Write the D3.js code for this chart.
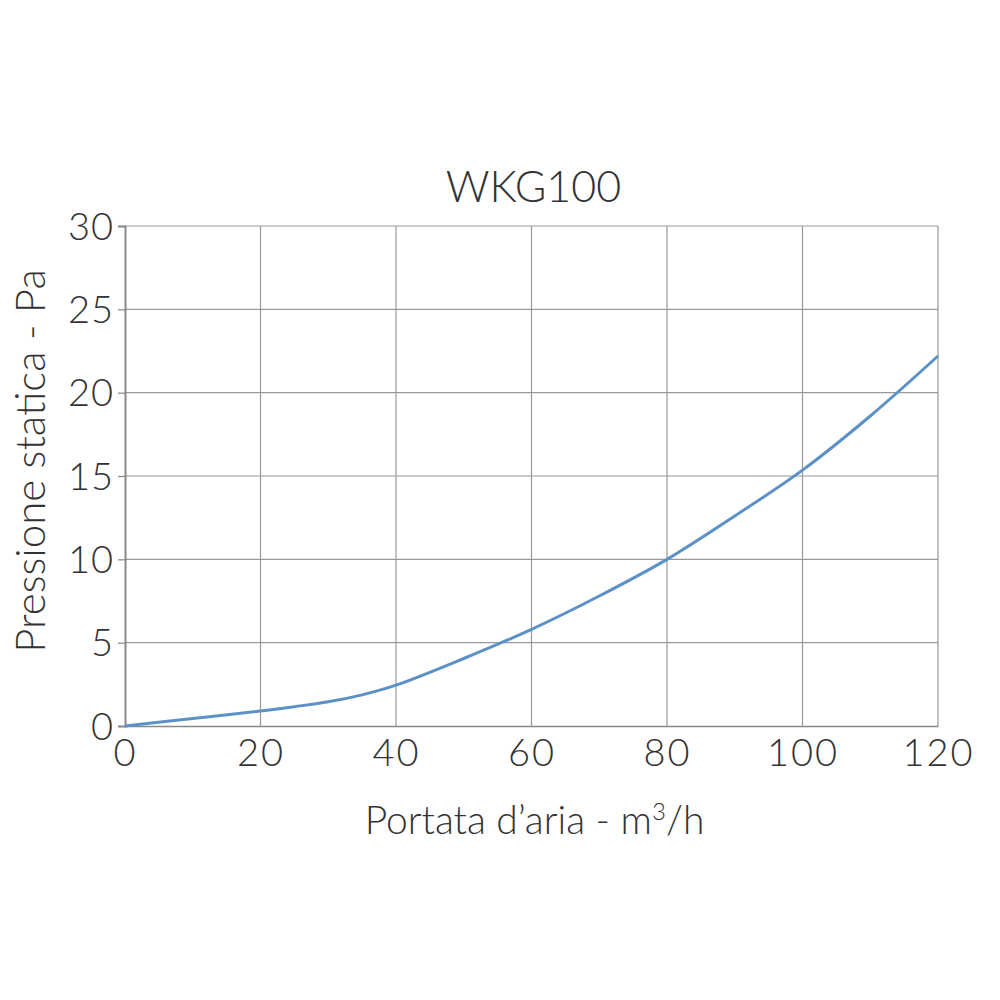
<!DOCTYPE html>
<html>
<head>
<meta charset="utf-8">
<script src="https://cdn.jsdelivr.net/npm/d3@7"></script>
<style>
  body { margin: 0; background: #fff; }
  text { font-family: 'Lato', 'Open Sans', sans-serif; font-weight: 300; fill: #333; }
</style>
</head>
<body>
<svg id="chart" width="1000" height="1000"></svg>
<script>
// air flow (m3/h) vs static pressure (Pa)
const flow = [0, 10, 20, 25, 30, 35, 40, 50, 60, 70, 80, 90, 100, 110, 120];
const pressure = [0, 0.45, 0.9, 1.16, 1.45, 1.87, 2.45, 4.05, 5.8, 7.8, 10, 12.6, 15.35, 18.6, 22.2];
const xTicks = [0, 20, 40, 60, 80, 100, 120];
const yTicks = [0, 5, 10, 15, 20, 25, 30];

const margin = { top: 226, right: 62, bottom: 274, left: 125 };
const width = 1000 - margin.left - margin.right;
const height = 1000 - margin.top - margin.bottom;

const svg = d3.select('#chart')
  .append('g')
  .attr('transform', `translate(${margin.left},${margin.top})`);

const xScale = d3.scaleLinear().domain([0, 120]).range([0, width]);
const yScale = d3.scaleLinear().domain([0, 30]).range([height, 0]);

// grid
svg.append('g')
  .selectAll('line.v')
  .data(xTicks.slice(1))
  .enter().append('line')
  .attr('x1', d => xScale(d)).attr('x2', d => xScale(d))
  .attr('y1', 0).attr('y2', height)
  .attr('stroke', '#999').attr('stroke-width', 1.2);

svg.append('g')
  .selectAll('line.h')
  .data(yTicks.slice(1))
  .enter().append('line')
  .attr('x1', 0).attr('x2', width)
  .attr('y1', d => yScale(d)).attr('y2', d => yScale(d))
  .attr('stroke', '#999').attr('stroke-width', 1.2);

const axisX = d3.axisBottom(xScale).tickValues(xTicks).tickSize(0).tickPadding(14);
const axisY = d3.axisLeft(yScale).tickValues(yTicks).tickSize(7).tickPadding(4);

const gx = svg.append('g')
  .attr('transform', `translate(0, ${height})`)
  .call(axisX);
gx.select('.domain').attr('stroke', '#888').attr('stroke-width', 1.5);
gx.selectAll('text').style('font-size', '38px').style('letter-spacing', '2px').attr('dy', '0.68em');

const gy = svg.append('g').call(axisY);
gy.select('.domain').attr('stroke', '#888').attr('stroke-width', 2);
gy.selectAll('line').attr('stroke', '#888').attr('stroke-width', 1.2);
gy.selectAll('text').style('font-size', '38px').style('letter-spacing', '1px').attr('dy', '0.35em');

// curve
const line = d3.line()
  .x((d, i) => xScale(flow[i]))
  .y(d => yScale(d))
  .curve(d3.curveCatmullRom.alpha(0.5));

svg.append('path')
  .datum(pressure)
  .attr('d', line)
  .attr('fill', 'none')
  .attr('stroke', '#5b91c6')
  .attr('stroke-width', 3);

// titles
svg.append('text')
  .attr('x', width / 2 + 2)
  .attr('y', -24)
  .attr('text-anchor', 'middle')
  .style('font-size', '43px')
  .text('WKG100');

const xl = svg.append('text')
  .attr('x', width / 2 + 3)
  .attr('y', height + 108)
  .attr('text-anchor', 'middle')
  .style('font-size', '39px');
xl.append('tspan').text('Portata d\u2019aria - m');
xl.append('tspan').attr('dy', -14).style('font-size', '24px').text('3');
xl.append('tspan').attr('dy', 14).text('/h');

svg.append('text')
  .attr('transform', `translate(-80, ${height / 2 - 15}) rotate(-90)`)
  .attr('text-anchor', 'middle')
  .style('font-size', '42px')
  .text('Pressione statica  - Pa');
</script>
</body>
</html>
